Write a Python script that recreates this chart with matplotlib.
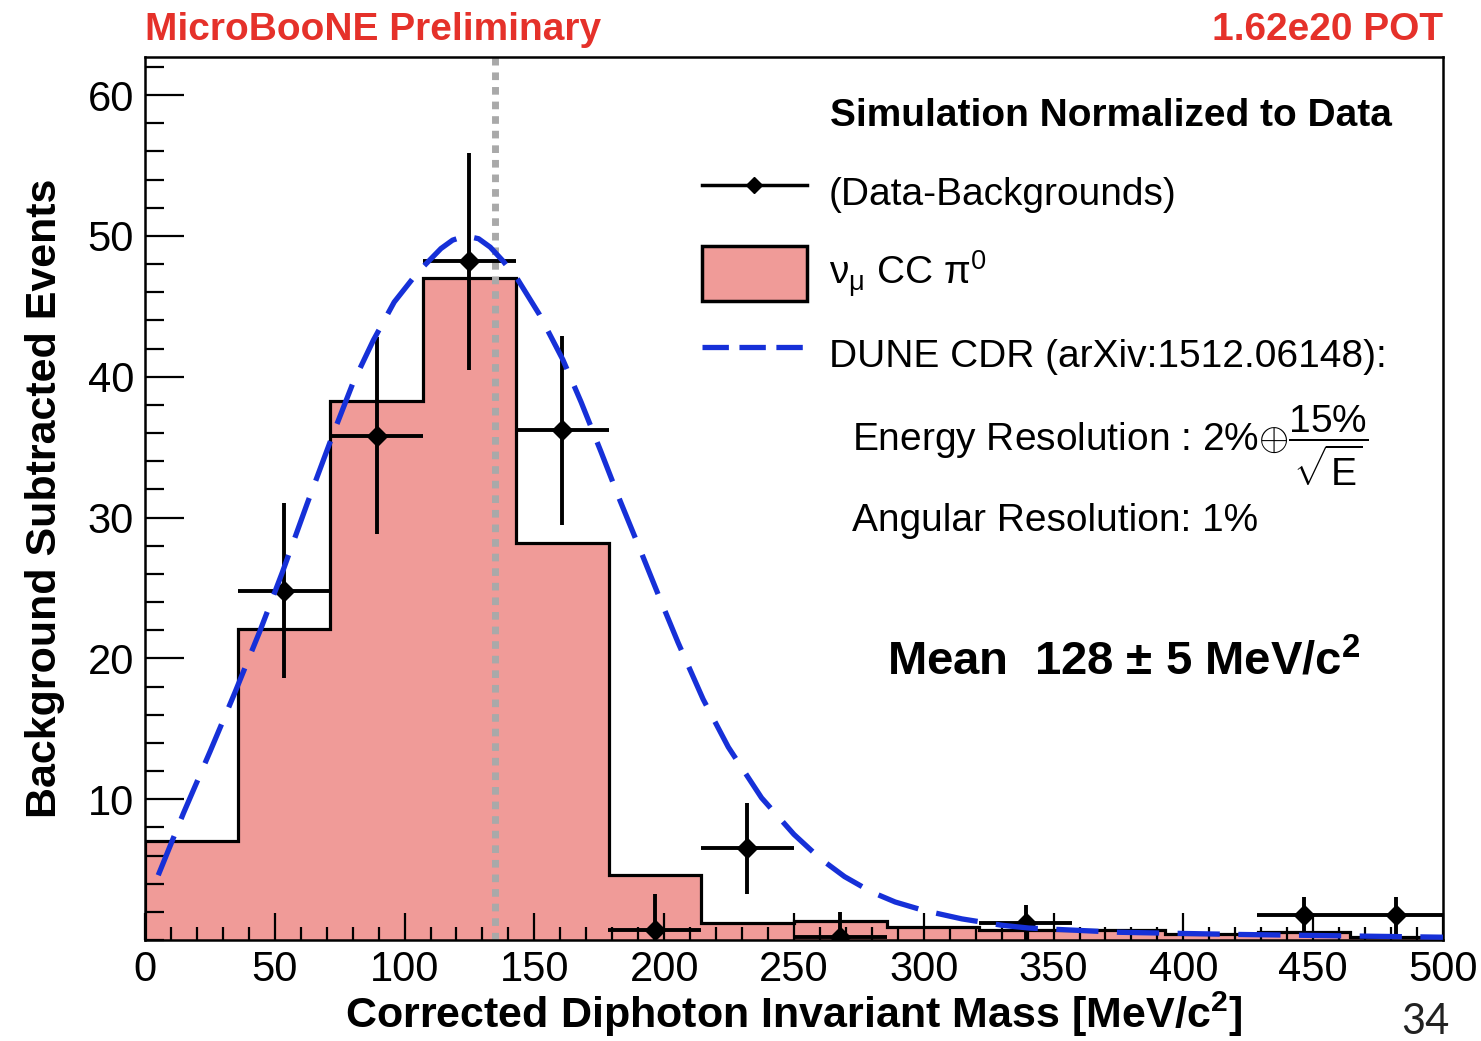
import numpy as np
import matplotlib
matplotlib.use('Agg')
import matplotlib.pyplot as plt
from matplotlib.lines import Line2D
from matplotlib.patches import Patch
from matplotlib.ticker import MultipleLocator

plt.rcParams['font.family'] = ['Liberation Sans', 'DejaVu Sans']
plt.rcParams['mathtext.fontset'] = 'custom'
plt.rcParams['mathtext.rm'] = 'Liberation Sans'
plt.rcParams['mathtext.it'] = 'Liberation Sans:italic'
plt.rcParams['mathtext.bf'] = 'Liberation Sans:bold'

# simulated nu_mu CC pi0 histogram, 14 bins from 0 to 500 MeV
edges = np.linspace(0, 500, 15)
sim_counts = [7.0, 22.1, 38.3, 47.0, 28.2, 4.6, 1.2, 1.35, 0.95, 0.7, 0.7, 0.45, 0.55, 0.2]

# data - backgrounds points
pt_x = [53.6, 89.3, 125.0, 160.7, 196.4, 232.1, 267.9, 339.3, 446.4, 482.1]
pt_y = [24.8, 35.8, 48.2, 36.2, 0.7, 6.5, 0.2, 1.2, 1.75, 1.75]
pt_err = [6.2, 7.0, 7.7, 6.7, 2.6, 3.2, 1.8, 1.3, 1.3, 1.3]

# DUNE CDR expectation curve
dune_x = [5.1, 14.8, 25.1, 34.7, 44.4, 52.9, 62.5, 72.6, 80.0, 88.0, 96.0, 105.0, 114.0,
          118.5, 123.5, 128.5, 133.0, 138.0, 143.6, 152.0, 161.0, 168.0, 175.6, 183.0,
          191.0, 198.0, 205.4, 215.0, 224.7, 237.5, 250.0, 260.0, 269.5, 280.0, 289.0,
          300.0, 314.7, 330.0, 340.5, 375.0, 420.0, 460.0, 500.0]
dune_y = [4.6, 9.0, 13.4, 17.6, 22.0, 26.1, 31.0, 36.0, 39.5, 42.6, 45.3, 47.4, 49.1,
          49.7, 50.0, 49.8, 49.2, 48.2, 46.9, 44.4, 41.2, 38.2, 34.7, 31.2,
          27.6, 24.4, 21.1, 17.1, 13.7, 10.1, 7.5, 5.8, 4.5, 3.4, 2.7,
          2.1, 1.5, 1.05, 0.85, 0.55, 0.4, 0.3, 0.2]

pi0_mass = 135.0

pink = '#f09b98'
blue = '#1630d8'
red = '#e5312a'

fig = plt.figure(figsize=(14.81, 10.41), dpi=100)
ax = fig.add_axes([0.0979, 0.0970, 0.8764, 0.8482])

ax.stairs(sim_counts, edges, fill=True, color=pink, zorder=1)
ax.stairs(sim_counts, edges, color='black', lw=2.3, zorder=2)
ax.axvline(pi0_mass, color='#a9a9a9', lw=5, ls=(0, (1.1, 1.0)), zorder=2.5)

half_w = np.diff(edges)[0] / 2
ax.errorbar(pt_x, pt_y, xerr=half_w, yerr=pt_err, fmt='D', color='black', ms=10,
            elinewidth=2.8, capsize=0, zorder=3)
ax.plot(dune_x, dune_y, color=blue, lw=3.8, ls=(0, (8, 3.5)), zorder=4)

ax.set_xlim(0, 500)
ax.set_ylim(0, 62.7)
ax.xaxis.set_major_locator(MultipleLocator(50))
ax.xaxis.set_minor_locator(MultipleLocator(10))
ax.yaxis.set_minor_locator(MultipleLocator(2))
ax.set_yticks([10, 20, 30, 40, 50, 60])
ax.tick_params(axis='x', which='major', direction='in', length=19.5, width=1.6, labelsize=30, pad=7)
ax.tick_params(axis='x', which='minor', direction='in', length=9.5, width=1.6)
ax.tick_params(axis='y', which='major', direction='in', length=28, width=1.6, labelsize=30, pad=8)
ax.tick_params(axis='y', which='minor', direction='in', length=14, width=1.6)
for s in ax.spines.values():
    s.set_linewidth(1.8)

ax.set_xlabel('Corrected Diphoton Invariant Mass [MeV/c$^{\\mathbf{2}}$]', fontsize=31,
              fontweight='bold', labelpad=0)
ax.set_ylabel('Background Subtracted Events', fontsize=31, fontweight='bold', labelpad=16)

handles = [
    Line2D([], [], color='black', lw=2.5, marker='D', ms=8),
    Patch(facecolor=pink, edgecolor='black', lw=2.5),
    Line2D([], [], color=blue, lw=3.8, ls=(0, (5, 2))),
]
labels = ['(Data-Backgrounds)', 'ν$_{\\mathregular{μ}}$ CC π$^{\\mathregular{0}}$',
          'DUNE CDR (arXiv:1512.06148):']
ax.legend(handles, labels, loc='upper left', bbox_to_anchor=(0.429, 0.878), frameon=False,
          fontsize=28, handlelength=2.7, handleheight=1.8, handletextpad=0.57,
          labelspacing=0.67, borderpad=0, borderaxespad=0)

ax.text(0.5277, 0.933, 'Simulation Normalized to Data', transform=ax.transAxes,
        fontsize=28, fontweight='bold', va='center', ha='left')
ax.text(0.5447, 0.560, 'Energy Resolution : 2%$\\oplus\\dfrac{15\\%}{\\sqrt{\\mathrm{E}}}$',
        transform=ax.transAxes, fontsize=28, va='center', ha='left')
ax.text(0.5447, 0.4745, 'Angular Resolution: 1%', transform=ax.transAxes,
        fontsize=28, va='center', ha='left')
ax.text(0.5716, 0.314, 'Mean  128 ± 5 MeV/c$^{\\mathbf{2}}$', transform=ax.transAxes,
        fontsize=34, fontweight='bold', va='center', ha='left')

fig.text(0.0979, 0.971, 'MicroBooNE Preliminary', color=red, fontsize=28,
         fontweight='bold', va='center', ha='left')
fig.text(0.9743, 0.971, '1.62e20 POT', color=red, fontsize=28,
         fontweight='bold', va='center', ha='right')
fig.text(0.979, 0.018, '34', color='#222222', fontsize=30, family='Lato',
         fontweight='normal', va='center', ha='right')

fig.savefig('out.png', dpi=100)
